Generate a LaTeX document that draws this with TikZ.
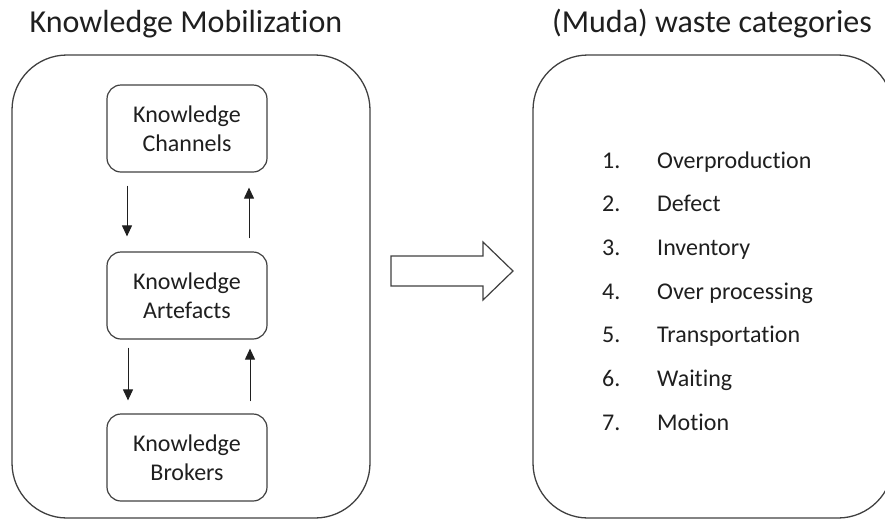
\documentclass[tikz,border=0pt]{standalone}
\usepackage{fontspec}
\setmainfont{Carlito}[Ligatures=NoCommon, RawFeature=-liga]
\usetikzlibrary{arrows.meta}
\definecolor{ink}{HTML}{1F1F1F}
\definecolor{edge}{HTML}{404040}
\tikzset{
  bigbox/.style={draw=edge, line width=1.3pt, rounded corners=55pt, inner sep=0pt},
  kbox/.style={draw=edge, line width=1.2pt, rounded corners=14pt, minimum width=160pt, minimum height=87pt, inner sep=0pt, align=center, font=\fontsize{24}{29}\selectfont, text=ink},
  arr/.style={draw=ink, line width=1pt, -{Triangle[length=11pt,width=10pt]}},
  title/.style={font=\fontsize{32}{38}\selectfont, text=ink, anchor=base, inner sep=0pt},
  item/.style={font=\fontsize{24}{29}\selectfont, text=ink, anchor=base west, inner sep=0pt}
}
\begin{document}
\begin{tikzpicture}[x=1pt,y=-1pt]
\useasboundingbox (0,0) rectangle (885,520);
% titles
\node[title] (t1) at (186,32) {Knowledge Mobilization};
\node[title] (t2) at (712,32) {(Muda) waste categories};
% big boxes
\node[bigbox, minimum width=358pt, minimum height=463pt] (leftbox) at (191,286.5) {};
\node[bigbox, minimum width=360pt, minimum height=463pt] (rightbox) at (713,286.5) {};
% inner boxes
\node[kbox] (ch) at (187,128.5) {Knowledge\\Channels};
\node[kbox] (ar) at (187,295.5) {Knowledge\\Artefacts};
\node[kbox] (br) at (187,457.5) {Knowledge\\Brokers};
% arrows
\draw[arr] ([xshift=-60pt,yshift=-13pt]ch.south) -- ([xshift=-60pt,yshift=15pt]ar.north);
\draw[arr] ([xshift=62pt,yshift=13pt]ar.north) -- ([xshift=62pt,yshift=-15pt]ch.south);
\draw[arr] ([xshift=-59pt,yshift=-8pt]ar.south) -- ([xshift=-59pt,yshift=13pt]br.north);
\draw[arr] ([xshift=63pt,yshift=12pt]br.north) -- ([xshift=63pt,yshift=-9pt]ar.south);
% block arrow
\draw[draw=edge, line width=1.2pt, fill=white, line join=miter]
  (391,256) -- (483,256) -- (483,242) -- (513,271) -- (483,300) -- (483,286) -- (391,286) -- cycle;
% list
\foreach \n/\t [count=\i from 0] in {1./Overproduction, 2./Defect, 3./Inventory, 4./Over processing, 5./Transportation, 6./Waiting, 7./Motion}{
  \node[item] (num\i) at (602,168+43.67*\i) {\n};
  \node[item] (txt\i) at (657,168+43.67*\i) {\t};
}
\end{tikzpicture}
\end{document}
